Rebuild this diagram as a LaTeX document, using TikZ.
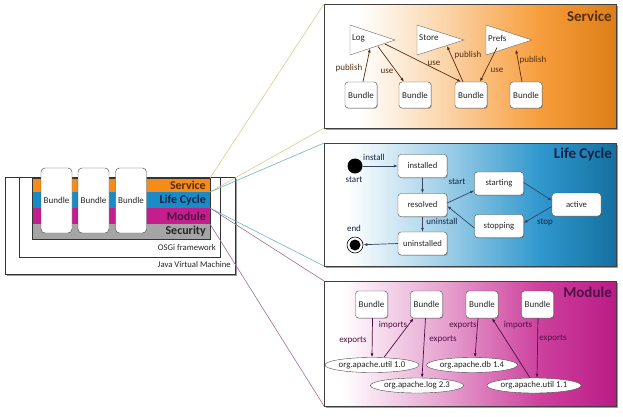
\documentclass[tikz,border=0pt]{standalone}
\usepackage{fontspec}
\setmainfont{Carlito}
\usetikzlibrary{arrows.meta,shadows,shapes.geometric}
\definecolor{svcOr}{RGB}{245,140,25}
\definecolor{lcBl}{RGB}{25,140,200}
\definecolor{modMg}{RGB}{196,30,140}
\definecolor{secGr}{RGB}{165,165,165}
\definecolor{svcTxt}{RGB}{85,45,15}
\definecolor{lcTxt}{RGB}{20,35,70}
\definecolor{modTxt}{RGB}{80,15,70}
\definecolor{svcLine}{RGB}{215,205,140}
\definecolor{lcLine}{RGB}{110,180,195}
\definecolor{modLine}{RGB}{160,110,150}
\pgfdeclarehorizontalshading{svcsh}{100bp}{color(0bp)=(white); color(31bp)=(white); color(45bp)=(svcOr!35); color(62bp)=(svcOr!85); color(75bp)=(svcOr!90!black); color(100bp)=(svcOr!90!black)}
\pgfdeclarehorizontalshading{lcsh}{100bp}{color(0bp)=(white); color(29bp)=(white); color(45bp)=(lcBl!40); color(62bp)=(lcBl!90); color(75bp)=(lcBl!80!black); color(100bp)=(lcBl!80!black)}
\pgfdeclarehorizontalshading{modsh}{100bp}{color(0bp)=(white); color(28bp)=(white); color(45bp)=(modMg!40); color(62bp)=(modMg!85); color(75bp)=(modMg!95!black); color(100bp)=(modMg!95!black)}
\tikzset{
  panel/.style={draw=black!75, line width=0.8pt, inner sep=0pt, outer sep=0pt, anchor=north west,
    drop shadow={shadow xshift=1.5pt, shadow yshift=-1.5pt, opacity=0.55, fill=black!70}},
  ptitle/.style={font=\bfseries\fontsize{15}{15}\selectfont, anchor=east, inner sep=0pt},
  bnd/.style={draw=black!70, fill=white, rounded corners=3pt, inner sep=0pt, minimum width=32pt, minimum height=26pt, font=\fontsize{9}{9}\selectfont, text=black!85,
    drop shadow={shadow xshift=0.8pt, shadow yshift=-0.8pt, opacity=0.35, fill=black!70}},
  bigbnd/.style={draw=black!75, fill=white, rounded corners=4pt, inner sep=0pt, minimum width=31pt, minimum height=65pt, font=\fontsize{9}{9}\selectfont, text=black!85},
  st/.style={draw=black!70, fill=white, rounded corners=3pt, inner sep=0pt, minimum width=49pt, minimum height=23pt, font=\fontsize{8.7}{8.7}\selectfont, text=black!85,
    drop shadow={shadow xshift=0.8pt, shadow yshift=-0.8pt, opacity=0.35, fill=black!70}},
  pkg/.style={draw=black!70, fill=white, ellipse, inner sep=0pt, minimum height=15pt, font=\fontsize{8.8}{8.8}\selectfont, text=black!85},
  tri/.style={draw=black!60, fill=white, line join=miter},
  trilbl/.style={font=\fontsize{9}{9}\selectfont, anchor=west, inner sep=0pt, text=black!85},
  lbl/.style={font=\fontsize{9}{9}\selectfont, inner sep=0pt},
  band/.style={inner sep=0pt, outer sep=0pt, minimum width=178pt, anchor=north west},
  bandtxt/.style={font=\bfseries\fontsize{12}{12}\selectfont, anchor=east, inner sep=0pt},
  smalltxt/.style={font=\fontsize{8.7}{8.7}\selectfont, anchor=east, inner sep=0pt, text=black!85},
  sarr/.style={draw=svcTxt, line width=0.7pt, -{Latex[length=4pt,width=3pt]}},
  larr/.style={draw=lcTxt!85, line width=0.7pt, -{Latex[length=4pt,width=3pt]}},
  marr/.style={draw=modTxt, line width=0.7pt, -{Latex[length=4pt,width=3pt]}},
  conn/.style={line width=0.6pt},
}
\begin{document}
\begin{tikzpicture}[x=1pt,y=-1pt]
\useasboundingbox (0,0) rectangle (623,416);
% ---------- left stack ----------
\node[draw=black!80, line width=0.8pt, inner sep=0pt, anchor=north west, minimum width=230pt, minimum height=97pt, fill=white,
  drop shadow={shadow xshift=1.5pt, shadow yshift=-1.5pt, opacity=0.55, fill=black!70}] (jvm) at (5,177) {};
\node[draw=black!80, line width=0.6pt, inner sep=0pt, anchor=north west, minimum width=201pt, minimum height=80pt] (osgi) at (19,177) {};
\node[band, fill=svcOr, minimum height=14pt] (svc) at (32,178) {};
\node[band, fill=lcBl, minimum height=16pt] (lc) at (32,192) {};
\node[band, fill=modMg, minimum height=16pt] (mod) at (32,208) {};
\node[band, fill=secGr, minimum height=15pt] (sec) at (32,224) {};
\draw[black!80, line width=0.7pt] (svc.north west) rectangle (sec.south east);
\node[bigbnd] (b1) at (56.5,200.5) {Bundle};
\node[bigbnd] (b2) at (93.5,200.5) {Bundle};
\node[bigbnd] (b3) at (131,200.5) {Bundle};
\node[bandtxt, text=svcTxt] (svcT) at (206,185) {Service};
\node[bandtxt, text=lcTxt] (lcT) at (206,200) {Life Cycle};
\node[bandtxt, text=modTxt] (modT) at (206,216) {Module};
\node[bandtxt, text=black!85] (secT) at (206,231.5) {Security};
\node[smalltxt] (osgiT) at (216,248) {OSGi framework};
\node[smalltxt] (jvmT) at (231,265) {Java Virtual Machine};
% ---------- panels ----------
\node[panel, shading=svcsh, minimum width=292pt, minimum height=124pt] (svcP) at (324,4) {};
\node[panel, shading=lcsh, minimum width=292pt, minimum height=123pt] (lcP) at (324,143) {};
\node[panel, shading=modsh, minimum width=292pt, minimum height=125pt] (modP) at (324,281) {};
\node[ptitle, text=svcTxt] (svcPT) at (612,16) {Service};
\node[ptitle, text=lcTxt] (lcPT) at (612,154) {Life Cycle};
\node[ptitle, text=modTxt] (modPT) at (612,292) {Module};
% ---------- connectors ----------
\draw[conn, svcLine] (svc.north east) -- (svcP.north west);
\draw[conn, svcLine] (svc.south east) -- (svcP.south west);
\draw[conn, lcLine] (lc.north east) -- (lcP.north west);
\draw[conn, lcLine] (lc.south east) -- (lcP.south west);
\draw[conn, modLine] (mod.north east) -- (modP.north west);
\draw[conn, modLine] (mod.south east) -- (modP.south west);
% ---------- service panel ----------
\draw[tri] (350,25) -- (395,40) -- (350,55) -- cycle;
\draw[tri] (417,25) -- (464,40) -- (417,55) -- cycle;
\draw[tri] (486,25) -- (532,40) -- (486,55) -- cycle;
\node[trilbl] (log) at (352,38) {Log};
\node[trilbl] (store) at (419,38) {Store};
\node[trilbl] (prefs) at (488,38) {Prefs};
\coordinate (logIn) at (370,48.5);
\coordinate (logOutA) at (378,46.5);
\coordinate (logOutB) at (385,44);
\coordinate (storeIn) at (447,46);
\coordinate (prefsOut) at (497,47.5);
\coordinate (prefsIn) at (516,49.5);
\node[bnd] (s1) at (361,95) {Bundle};
\node[bnd] (s2) at (415,95) {Bundle};
\node[bnd] (s3) at (471,95) {Bundle};
\node[bnd] (s4) at (526,95) {Bundle};
\draw[sarr] ([xshift=2pt]s1.north) -- (logIn);
\draw[sarr] (logOutA) -- ([xshift=-11pt]s2.north);
\draw[sarr] (logOutB) -- ([xshift=-10pt]s3.north);
\draw[sarr] ([xshift=-8pt]s3.north) -- (storeIn);
\draw[sarr] (prefsOut) -- ([xshift=9pt]s3.north);
\draw[sarr] ([xshift=-4pt]s4.north) -- (prefsIn);
\node[lbl, text=svcTxt] (p1) at (349,68) {publish};
\node[lbl, text=svcTxt] (u1) at (387,71) {use};
\node[lbl, text=svcTxt] (u2) at (434,63) {use};
\node[lbl, text=svcTxt] (p2) at (468,55) {publish};
\node[lbl, text=svcTxt] (u3) at (497,70) {use};
\node[lbl, text=svcTxt] (p3) at (533,60) {publish};
% ---------- life cycle panel ----------
\node[circle, fill=black, inner sep=0pt, minimum size=15pt] (start) at (355,166) {};
\node[circle, draw=black, fill=white, line width=0.6pt, inner sep=0pt, minimum size=16pt] (end) at (355,245) {};
\node[circle, fill=black, inner sep=0pt, minimum size=11pt] (endin) at (355,245) {};
\node[st] (installed) at (422.5,166) {installed};
\node[st] (resolved) at (422.5,205) {resolved};
\node[st] (uninstalled) at (422.5,243.5) {uninstalled};
\node[st] (starting) at (499,183.5) {starting};
\node[st] (stopping) at (499,226) {stopping};
\node[st] (active) at (576.5,204.5) {active};
\draw[larr] (start) -- (installed.west);
\draw[larr] (installed) -- (resolved);
\draw[larr] ([yshift=2pt]resolved.east) -- ([yshift=-7pt]starting.west);
\draw[larr] ([yshift=1pt]starting.east) -- ([yshift=4pt]active.west);
\draw[larr] ([yshift=-2pt]active.west) -- ([yshift=3pt]stopping.east);
\draw[larr] ([yshift=-2pt]stopping.west) -- ([yshift=-1pt]resolved.east);
\draw[larr] (resolved) -- (uninstalled);
\draw[larr] (uninstalled.west) -- (end);
\node[lbl, text=lcTxt] (installL) at (374,157) {install};
\node[lbl, text=lcTxt] (startL) at (354,180) {start};
\node[lbl, text=lcTxt] (endL) at (354,228) {end};
\node[lbl, text=lcTxt] (startL2) at (457,182) {start};
\node[lbl, text=lcTxt] (uninstL) at (442,221) {uninstall};
\node[lbl, text=lcTxt] (stopL) at (545,222) {stop};
% ---------- module panel ----------
\node[bnd, minimum height=27pt] (m1) at (371.5,304.5) {Bundle};
\node[bnd, minimum height=27pt] (m2) at (426.5,304.5) {Bundle};
\node[bnd, minimum height=27pt] (m3) at (482,304.5) {Bundle};
\node[bnd, minimum height=27pt] (m4) at (537.5,304.5) {Bundle};
\node[pkg, minimum width=91pt] (e1) at (372,365) {org.apache.util 1.0};
\node[pkg, minimum width=83pt] (e2) at (417,385.5) {org.apache.log 2.3};
\node[pkg, minimum width=89pt] (e3) at (472,365) {org.apache.db 1.4};
\node[pkg, minimum width=88pt] (e4) at (534,385.5) {org.apache.util 1.1};
\draw[marr] ([xshift=1pt]m1.south) -- (e1.north);
\draw[marr] ([xshift=12pt]e1.north) -- ([xshift=-13pt]m2.south);
\draw[marr] ([xshift=-1pt]m2.south) -- ([xshift=5pt]e2.north);
\draw[marr] ([xshift=-4pt]m3.south) -- ([xshift=3pt]e3.north);
\draw[marr] ([xshift=-4pt]e4.north) -- ([xshift=10pt]m3.south);
\draw[marr] ([xshift=0.5pt]m4.south) -- ([xshift=3pt]e4.north);
\node[lbl, text=modTxt] (ex1) at (353,340) {exports};
\node[lbl, text=modTxt] (im1) at (393,325) {imports};
\node[lbl, text=modTxt] (ex2) at (443,339) {exports};
\node[lbl, text=modTxt] (ex3) at (463,325) {exports};
\node[lbl, text=modTxt] (im2) at (518,325) {imports};
\node[lbl, text=modTxt] (ex4) at (553,338) {exports};
\end{tikzpicture}
\end{document}
